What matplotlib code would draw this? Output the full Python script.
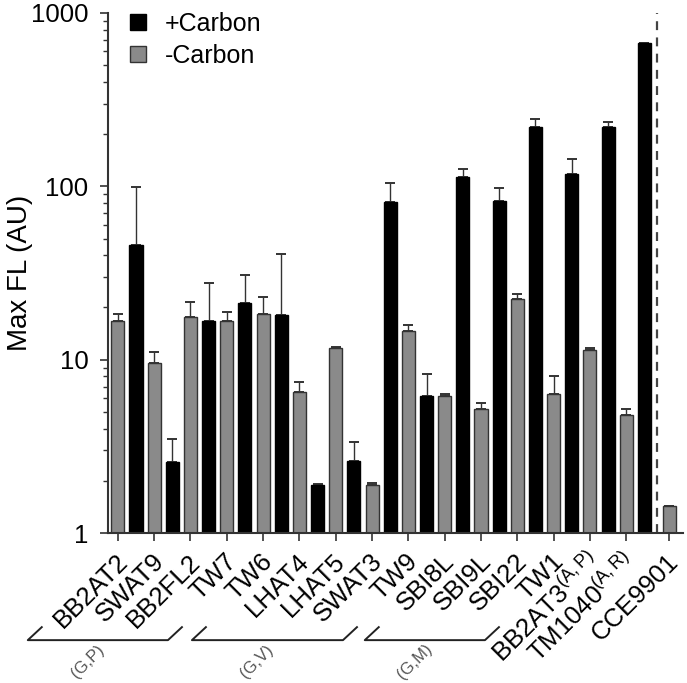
import numpy as np
import matplotlib
matplotlib.use("Agg")
import matplotlib.pyplot as plt
from matplotlib.patches import Patch
import matplotlib.transforms as mtransforms

plt.rcParams['font.family'] = ['Liberation Sans', 'DejaVu Sans']
plt.rcParams['mathtext.fontset'] = 'custom'
plt.rcParams['mathtext.rm'] = 'Liberation Sans'
plt.rcParams['mathtext.it'] = 'Liberation Sans:italic'
plt.rcParams['mathtext.bf'] = 'Liberation Sans:bold'

# strains (tick labels)
strains = ["BB2AT2", "SWAT9", "BB2FL2", "TW7", "TW6", "LHAT4", "LHAT5", "SWAT3",
           "TW9", "SBI8L", "SBI9L", "SBI22", "TW1", r"BB2AT3$^{\mathrm{(A,P)}}$",
           r"TM1040$^{\mathrm{(A,R)}}$", "CCE9901"]

# +Carbon (black), nan = not measured
plus_carbon = [45.9, 2.58, 16.7, 21.3, 18.1, 1.89, 2.6, 81.6, 6.2, 113.7, 82.7,
               221, 117.5, 221, 675, np.nan]
plus_err = [52.9, 0.89, 11.1, 9.5, 22.6, 0.03, 0.77, 23.4, 2.04, 11.9, 14.8,
            24, 26.5, 15, 0, np.nan]

# -Carbon (gray)
minus_carbon = [16.8, 9.6, 17.7, 16.7, 18.4, 6.54, 11.6, 1.89, 14.6, 6.2, 5.2,
                22.4, 6.34, 11.3, 4.8, 1.44]
minus_err = [1.6, 1.5, 3.7, 2.1, 4.5, 0.9, 0.2, 0.05, 1.3, 0.1, 0.4,
             1.4, 1.7, 0.3, 0.37, 0]

# group brackets: label, x start, x end (in tick units)
groups = [("(G,P)", -2.48, 1.38), ("(G,V)", 2.04, 6.2), ("(G,M)", 6.8, 10.11)]

x = np.arange(len(strains), dtype=float)
x[-1] = 15.18  # CCE9901 set apart past the dashed line
w = 0.36

fig = plt.figure(figsize=(6.87, 6.83), dpi=100)
ax = fig.add_axes([0.157, 0.2196, 0.837, 0.7614])

gray = "#8a8a8a"
ax.bar(x, minus_carbon, w, color=gray, edgecolor="#333333", linewidth=1.0, zorder=2)
ax.bar(x + 0.5, plus_carbon, w, color="black", edgecolor="black", linewidth=1.0, zorder=2)

ax.errorbar(x, minus_carbon, yerr=[np.zeros(len(x)), minus_err], fmt="none",
            ecolor="#333333", elinewidth=1.0, capsize=3.5, capthick=1.4, zorder=1)
ax.errorbar(x + 0.5, plus_carbon, yerr=[np.zeros(len(x)), plus_err], fmt="none",
            ecolor="#333333", elinewidth=1.0, capsize=3.5, capthick=1.4, zorder=1)

ax.set_yscale("log")
ax.set_ylim(1, 1000)
ax.set_xlim(-0.275, 15.56)
ax.set_yticks([1, 10, 100, 1000])
ax.set_yticklabels(["1", "10", "100", "1000"])
ax.set_ylabel("Max FL (AU)", fontsize=20)
ax.yaxis.set_label_coords(-0.13, 0.5)

ax.axvline(14.85, color="#444444", lw=1.6, ls=(0, (4, 3.3)), zorder=0)

for s in ["top", "right"]:
    ax.spines[s].set_visible(False)
for s in ["left", "bottom"]:
    ax.spines[s].set_color("#333333")
    ax.spines[s].set_linewidth(1.5)

ax.tick_params(axis="y", which="major", length=6, width=1.2, labelsize=18.5, pad=8, color="#333333")
ax.tick_params(axis="y", which="minor", length=3.5, width=1.0, color="#333333")
ax.tick_params(axis="x", length=6, width=1.2, labelsize=18.5, pad=4, color="#333333")

ax.set_xticks(x)
ax.set_xticklabels(strains, rotation=45, ha="right", va="center", rotation_mode="anchor")
shift = mtransforms.ScaledTranslation(0.06, -0.11, fig.dpi_scale_trans)
for lab in ax.get_xticklabels():
    lab.set_transform(lab.get_transform() + shift)

# brackets under the strain groups
for name, x0, x1 in groups:
    d = 0.385
    ax.plot([x0 + d, x0, x1, x1 + d], [-0.181, -0.206, -0.206, -0.181],
            transform=ax.get_xaxis_transform(), color="#222222", lw=1.4, clip_on=False)
    ax.text((x0 + x1) / 2 - 0.28, -0.248, name, transform=ax.get_xaxis_transform(),
            rotation=45, ha="center", va="center", fontsize=12, color="#555555")

handles = [Patch(facecolor="black", edgecolor="black", label="+Carbon"),
           Patch(facecolor=gray, edgecolor="#333333", label="-Carbon")]
ax.legend(handles=handles, loc="upper left", bbox_to_anchor=(0.0, 1.045), frameon=False,
          fontsize=18, handlelength=0.62, handleheight=0.62, handletextpad=0.75,
          labelspacing=0.3)

fig.savefig("out.png", dpi=100)
